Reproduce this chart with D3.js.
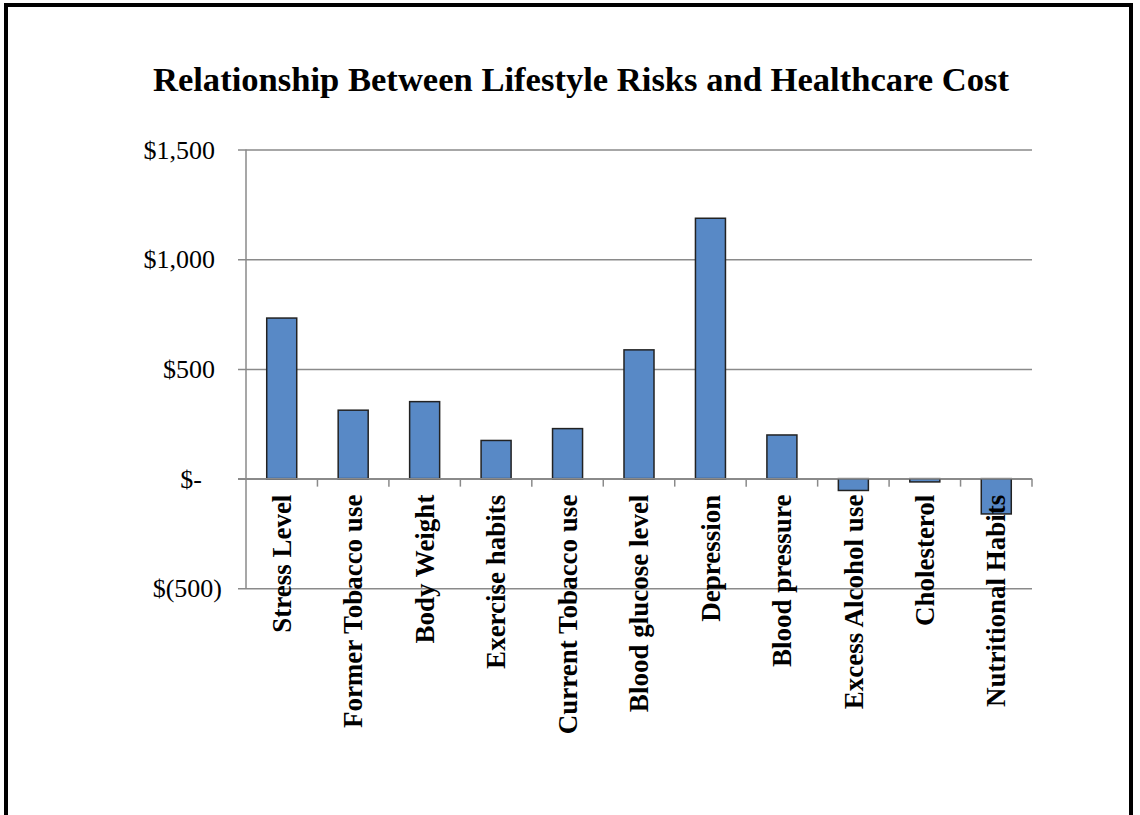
<!DOCTYPE html>
<html>
<head>
<meta charset="utf-8">
<script src="https://cdn.jsdelivr.net/npm/d3@7"></script>
<style>
  html, body { margin: 0; padding: 0; background: #ffffff; }
  svg { display: block; }
</style>
</head>
<body>
<svg id="chart" width="1140" height="815"></svg>
<script>
// Lifestyle risk factors and their associated healthcare cost (USD)
const categories = [
  "Stress Level", "Former Tobacco use", "Body Weight", "Exercise habits",
  "Current Tobacco use", "Blood glucose level", "Depression", "Blood pressure",
  "Excess Alcohol use", "Cholesterol", "Nutritional Habits"
];
const costValues = [732, 312, 351, 174, 228, 587, 1187, 199, -54, -15, -161];
const tickValues = [-500, 0, 500, 1000, 1500];
const tickLabels = ["$(500)", "$-", "$500", "$1,000", "$1,500"];
const chartTitle = "Relationship Between Lifestyle Risks and Healthcare Cost";

const svg = d3.select("#chart");
const serif = "'Liberation Serif', 'Times New Roman', serif";

// Outer frame
svg.append("rect")
  .attr("x", 6).attr("y", 5)
  .attr("width", 1125).attr("height", 830)
  .attr("fill", "none")
  .attr("stroke", "#000")
  .attr("stroke-width", 4);

// Title
svg.append("text")
  .attr("x", 581).attr("y", 91)
  .attr("text-anchor", "middle")
  .attr("font-family", serif)
  .attr("font-weight", "bold")
  .attr("font-size", 34.6)
  .attr("fill", "#000")
  .text(chartTitle);

const plot = { left: 246, right: 1032, top: 149.6, bottom: 588.3 };

const x = d3.scaleBand()
  .domain(categories)
  .range([plot.left, plot.right])
  .paddingInner(0.58)
  .paddingOuter(0.29);

const y = d3.scaleLinear()
  .domain([-500, 1500])
  .range([plot.bottom, plot.top]);

const gridColor = "#8a8a8a";

// Horizontal gridlines with left tick marks
const yAxis = d3.axisLeft(y)
  .tickValues(tickValues)
  .tickSize(-(plot.right - plot.left))
  .tickFormat((d, i) => tickLabels[i]);

const gy = svg.append("g")
  .attr("transform", `translate(${plot.left},0)`)
  .call(yAxis);
gy.select(".domain").remove();
gy.selectAll(".tick line")
  .attr("x1", -8)
  .attr("stroke", gridColor)
  .attr("stroke-width", 1.5);
gy.selectAll(".tick text")
  .attr("x", -24)
  .attr("dx", d => d < 0 ? 0 : (d === 0 ? -20 : -7))
  .attr("dy", "0.33em")
  .attr("font-family", serif)
  .attr("font-size", 26)
  .attr("fill", "#000");

// Vertical value axis line
svg.append("line")
  .attr("x1", plot.left).attr("x2", plot.left)
  .attr("y1", plot.top).attr("y2", plot.bottom)
  .attr("stroke", gridColor)
  .attr("stroke-width", 1.5);

// Bars
svg.append("g")
  .selectAll("rect")
  .data(categories)
  .join("rect")
  .attr("x", d => x(d))
  .attr("width", x.bandwidth())
  .attr("y", (d, i) => y(Math.max(0, costValues[i])))
  .attr("height", (d, i) => Math.abs(y(costValues[i]) - y(0)))
  .attr("fill", "#5889c6")
  .attr("stroke", "#222")
  .attr("stroke-width", 1.5);

// Category axis at zero with tick marks between categories
const zeroY = y(0);
const boundaries = categories.map(c => x(c) - x.step() * x.paddingInner() / 2).slice(1);
boundaries.push(plot.right);
svg.append("g")
  .selectAll("line")
  .data(boundaries)
  .join("line")
  .attr("x1", d => d).attr("x2", d => d)
  .attr("y1", zeroY).attr("y2", zeroY + 8)
  .attr("stroke", gridColor)
  .attr("stroke-width", 1.5);

svg.append("line")
  .attr("x1", plot.left - 8).attr("x2", plot.right)
  .attr("y1", zeroY).attr("y2", zeroY)
  .attr("stroke", gridColor)
  .attr("stroke-width", 1.5);

// Rotated category labels
svg.append("g")
  .selectAll("text")
  .data(categories)
  .join("text")
  .attr("transform", d => `translate(${x(d) + x.bandwidth() / 2},${zeroY + 16}) rotate(-90)`)
  .attr("text-anchor", "end")
  .attr("dy", "0.34em")
  .attr("font-family", serif)
  .attr("font-weight", "bold")
  .attr("font-size", 27)
  .attr("fill", "#000")
  .text(d => d);
</script>
</body>
</html>
